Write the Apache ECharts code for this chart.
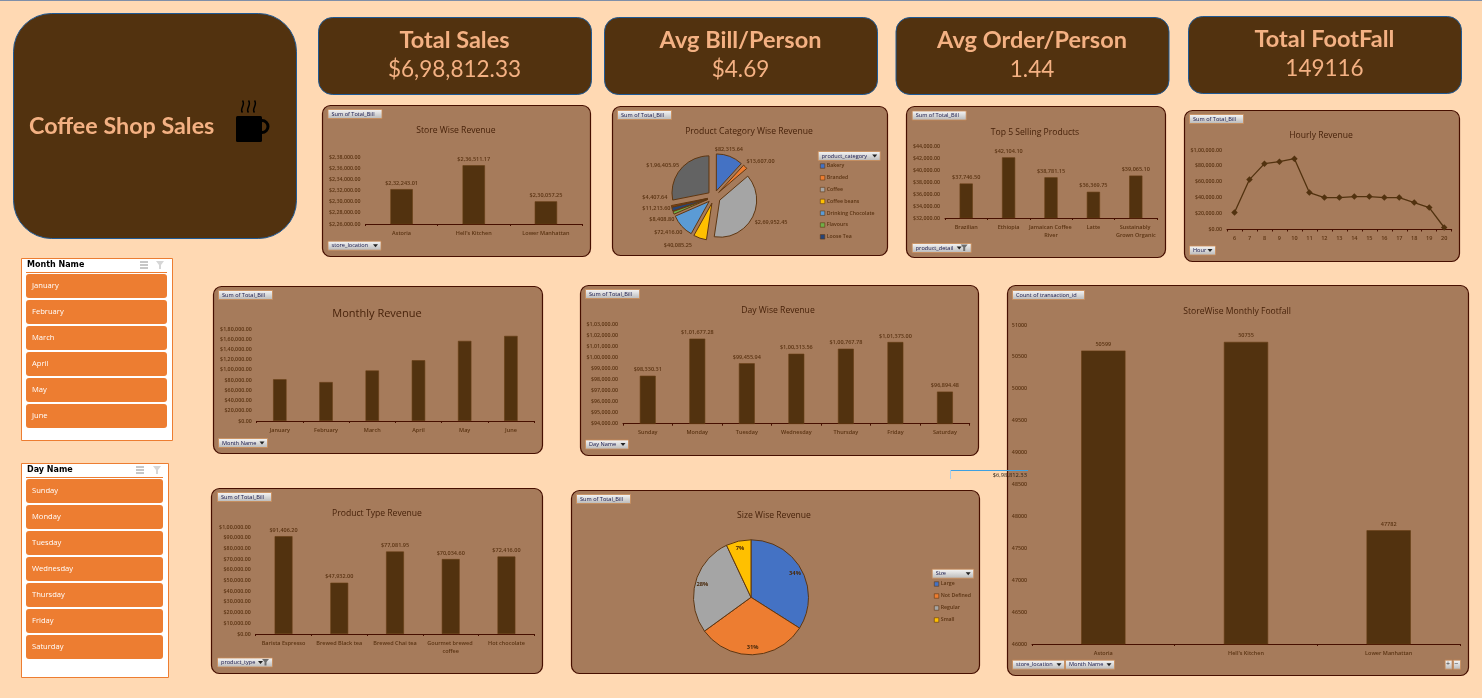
<!DOCTYPE html>
<html>
<head>
<meta charset="utf-8">
<style>html,body{margin:0;padding:0;background:#FFD9B3;overflow:hidden}#c{width:1482px;height:698px}</style>
<script src="https://cdn.jsdelivr.net/npm/echarts@6/dist/echarts.min.js"></script>
</head>
<body>
<div id="c"></div>
<script>
// ---- data ----
const storeNames = ['Astoria', "Hell's Kitchen", 'Lower Manhattan'];
const storeRevenue = [232243.01, 236511.17, 230057.25];
const categoryNames = ['Bakery','Branded','Coffee','Coffee beans','Drinking Chocolate','Flavours','Loose Tea','Packaged Chocolate','Tea'];
const categoryRevenue = [82315.64,13607.00,269952.45,40085.25,72416.00,8408.80,11213.60,4407.64,196405.95];
const categoryLegendCount = 7;
const categoryColors = ['#4472C4','#ED7D31','#A5A5A5','#FFC000','#5B9BD5','#70AD47','#264478','#9E480E','#636363'];
const topProducts = ['Brazilian','Ethiopia','Jamaican Coffee River','Latte','Sustainably Grown Organic'];
const topProductRevenue = [37746.50,42104.10,38781.15,36369.75,39065.10];
const hours = ['6','7','8','9','10','11','12','13','14','15','16','17','18','19','20'];
const hourlyRevenue = [21300,62800,82800,85300,89100,46400,40200,40200,41400,41400,40200,40200,33900,27600,2500];
const months = ['January','February','March','April','May','June'];
const monthlyRevenue = [81677.74,76145.19,98834.68,118941.08,156727.76,166485.88];
const days = ['Sunday','Monday','Tuesday','Wednesday','Thursday','Friday','Saturday'];
const dayRevenue = [98330.31,101677.28,99455.94,100313.56,100767.78,101373.00,96894.48];
const productTypes = ['Barista Espresso','Brewed Black tea','Brewed Chai tea','Gourmet brewed coffee','Hot chocolate'];
const productTypeRevenue = [91406.20,47932.00,77081.95,70034.60,72416.00];
const sizes = ['Large','Not Defined','Regular','Small'];
const sizeShare = [34,31,28,7];
const sizeColors = ['#4472C4','#ED7D31','#A5A5A5','#FFC000'];
const footfall = [50599,50735,47782];
const kpis = [['Total Sales','$6,98,812.33'],['Avg Bill/Person','$4.69'],['Avg Order/Person','1.44'],['Total FootFall','149116']];
const dashboardTitle = 'Coffee Shop Sales';
const strayTotal = '$6,98,812.33';

// ---- style ----
const PAGE='#FFD9B3', CARD='#52320F', CARDTXT='#F4B183', PANEL='#A67B5B', EDGE='#470F00', INK='#5A3312', TITLE='#47220A', ORANGE='#ED7D31';
const FONT='"Open Sans"';

function inr(v){
  const s=Number(v).toFixed(2).split('.');
  const last=s[0].slice(-3), rest=s[0].slice(0,-3).replace(/\B(?=(\d{2})+(?!\d))/g,',');
  return '$'+(rest?rest+',':'')+last+'.'+s[1];
}

const graphics=[], grids=[], xAxes=[], yAxes=[], series=[], titles=[];

function rect(x,y,w,h,fill,stroke,lw,r,z){
  const o=stroke?0.5:0;
  graphics.push({type:'rect',silent:true,z:z,shape:{x:x+o,y:y+o,width:w,height:h,r:r||0},style:{fill:fill,stroke:stroke||null,lineWidth:lw||0}});
}
function text(t,x,y,font,fill,align,z,extra){
  graphics.push(Object.assign({type:'text',silent:true,z:z||5,style:{text:t,x:x,y:y,font:font,fill:fill,align:align||'left',verticalAlign:'middle'}},extra||{}));
}
function poly(points,fill,z){
  graphics.push({type:'polygon',silent:true,z:z||6,shape:{points:points},style:{fill:fill}});
}
function line(x1,y1,x2,y2,stroke,lw,z){
  graphics.push({type:'line',silent:true,z:z||6,shape:{x1:x1,y1:y1,x2:x2,y2:y2},style:{stroke:stroke,lineWidth:lw||1}});
}
const BTNFILL={type:'linear',x:0,y:0,x2:0,y2:1,colorStops:[{offset:0,color:'#F8F8F8'},{offset:1,color:'#B8B8B8'}]};
function fieldBtn(x,y,w,t,kind){
  rect(x,y,w,9,BTNFILL,'#C98A55',0.8,0,5);
  text(t,x+4,y+5,'5.6px '+FONT,'#15154A','left',6);
  if(kind==='arrow'||kind==='filter'){
    const ax=kind==='filter'?x+w-14:x+w-7.5;
    poly([[ax,y+3.5],[ax+5,y+3.5],[ax+2.5,y+6.5]],'#222',6);
  }
  if(kind==='filter'){
    const fx=x+w-10;
    poly([[fx,y+1.5],[fx+7,y+1.5],[fx+4.5,y+4.5],[fx+4.5,y+8],[fx+2.5,y+8],[fx+2.5,y+4.5]],'#6E6E6E',6);
  }
}
function panel(x0,y0,x1,y1){ rect(x0,y0,x1-x0,y1-y0,PANEL,EDGE,1.2,8,-10); }

function axes(g,cats,min,max,interval,fmt,labW){
  const i=grids.length;
  grids.push({left:g[0],top:g[1],width:g[2],height:g[3],containLabel:false});
  xAxes.push({type:'category',gridIndex:i,data:cats,
    axisLine:{lineStyle:{color:EDGE,width:1}},
    axisTick:{show:true,length:2,alignWithLabel:false,lineStyle:{color:EDGE,width:1}},
    axisLabel:{interval:0,margin:5,fontFamily:FONT,fontSize:5.5,fontWeight:600,color:INK,width:labW,overflow:labW?'break':'none',lineHeight:8}});
  yAxes.push({type:'value',gridIndex:i,min:min,max:max,interval:interval,
    axisLine:{show:false},axisTick:{show:false},splitLine:{show:false},
    axisLabel:{margin:5,fontFamily:FONT,fontSize:5.3,fontWeight:600,color:INK,formatter:fmt}});
  return i;
}
function barChart(g,cats,vals,min,max,interval,o){
  o=o||{};
  const i=axes(g,cats,min,max,interval,o.axisFmt||inr,o.labW);
  series.push({type:'bar',xAxisIndex:i,yAxisIndex:i,data:vals,barWidth:o.bw||'31%',silent:true,
    itemStyle:{color:CARD,borderColor:'#653C12',borderWidth:0.6},
    label:{show:o.labels!==false,position:'top',distance:3,fontFamily:FONT,fontSize:5.5,fontWeight:600,color:INK,
      formatter:p=>(o.labelFmt||inr)(p.value)}});
}
function chartTitle(t,x,y,size){
  titles.push({text:t,left:x,top:y+1,textAlign:'center',textVerticalAlign:'middle',padding:0,
    textStyle:{fontFamily:FONT,fontSize:size,fontWeight:'normal',color:TITLE}});
}

// ---- page furniture ----
rect(0,0,1482,1,'#7F8FA9',null,0,0,-20);
// title card
rect(13,13,283,225,CARD,'#1F5A96',1,38,-10);
text(dashboardTitle,29,126,'bold 23.3px Lato',CARDTXT,'left',5);
// mug icon
rect(236,116,26,26,'#000',null,0,1.5,5);
graphics.push({type:'ring',silent:true,z:5,shape:{cx:262,cy:126.5,r:7.5,r0:4.5},style:{fill:'#000'}});
[242.5,248.5,254.5].forEach(function(sx){
  graphics.push({type:'bezierCurve',silent:true,z:5,shape:{x1:sx,y1:112.5,cpx1:sx-3.5,cpy1:109,cpx2:sx+3.5,cpy2:105,x2:sx,y2:100.5},style:{stroke:'#000',lineWidth:1.5,fill:null}});
});
// KPI cards
[[318,17],[604,17],[895.5,17],[1188,16]].forEach(function(p,i){
  rect(p[0],p[1],273,77,CARD,'#1F5A96',1,14,-10);
  text(kpis[i][0],p[0]+136.5,p[1]+23,'bold 23.5px Lato',CARDTXT,'center',5);
  text(kpis[i][1],p[0]+136.5,p[1]+53,'22.5px Lato',CARDTXT,'center',5);
});

// slicers
function slicer(x0,y0,x1,y1,bw,name,items,ic1,ic2){
  rect(x0,y0,x1-x0,y1-y0,'#FFFFFF',ORANGE,1,0,-10);
  text(name,27,y0+7,'bold 8px "DejaVu Sans"','#000','left',5);
  line(26,y0+14.5,26+bw,y0+14.5,ORANGE,1,5);
  items.forEach(function(t,i){
    rect(26,y0+16+26*i,bw,24,ORANGE,null,0,3,5);
    text(t,32,y0+28+26*i,'7.6px '+FONT,'#FFFFFF','left',6);
  });
  // multi-select icon
  [2,5,8].forEach(function(d){ line(ic1-1,y0+2+d,ic1+7,y0+2+d,'#8E8E8E',1,6); });
  // clear-filter icon
  poly([[ic2,y0+3],[ic2+8,y0+3],[ic2+5,y0+7],[ic2+5,y0+11],[ic2+3,y0+11],[ic2+3,y0+7]],'#D6D6D6',6);
}
slicer(21,258,172,440,141,'Month Name',months,141,156);
slicer(21,463,168,677,137,'Day Name',days,137,153);

// ---- store revenue ----
panel(322,105,590,256);
chartTitle('Store Wise Revenue',456,130,8.6);
barChart([365.5,157,216.5,67],storeNames,storeRevenue,226000,238000,2000,{});
fieldBtn(327.5,109,54,'Sum of Total_Bill');
fieldBtn(327.5,240.7,53,'store_location','arrow');

// ---- product category pie ----
panel(612,106,887,255);
chartTitle('Product Category Wise Revenue',749,131,8.6);
const categoryLabelNudge=[[-23,-4],[-8,-3],[-7,3],[0,2],[3,-1],[2,-4],[2,-7],[1,-9],[8,-2]];
series.push({type:'pie',silent:true,center:[714,197],radius:37,startAngle:90,clockwise:true,
  selectedMode:'multiple',selectedOffset:6.5,avoidLabelOverlap:true,minShowLabelAngle:0,
  data:categoryNames.map(function(n,i){return {name:n,value:categoryRevenue[i],selected:true};}),
  color:categoryColors,
  itemStyle:{borderColor:'#5F3712',borderWidth:1},
  label:{show:true,position:'outside',fontFamily:FONT,fontSize:5.5,fontWeight:600,color:INK,formatter:function(p){return inr(p.value);}},
  labelLine:{show:false,length:3,length2:2},
  labelLayout:function(p){const n=categoryLabelNudge[p.dataIndex];return {dx:n[0],dy:n[1]};}});
fieldBtn(617,110,54,'Sum of Total_Bill');
fieldBtn(817.7,151,62,'product_category','arrow');

// ---- top 5 ----
panel(906,106,1165,257);
chartTitle('Top 5 Selling Products',1035,132,8.6);
barChart([945,146,212,72],topProducts,topProductRevenue,32000,44000,2000,{labW:47});
fieldBtn(911.7,110.5,54,'Sum of Total_Bill');
fieldBtn(911.7,243,59,'product_detail','filter');

// ---- hourly ----
panel(1184,110,1459,261);
chartTitle('Hourly Revenue',1321,135,8.6);
(function(){
  const i=axes([1227,150,224.7,79.5],hours,0,100000,20000,inr);
  series.push({type:'line',xAxisIndex:i,yAxisIndex:i,data:hourlyRevenue,silent:true,symbol:'diamond',symbolSize:6.5,
    lineStyle:{color:CARD,width:1.3},itemStyle:{color:CARD}});
})();
fieldBtn(1189,114,54,'Sum of Total_Bill');
fieldBtn(1189,245.5,26,'Hour','arrow');

// ---- monthly ----
panel(213,286,542,453);
chartTitle('Monthly Revenue',377,313,11);
barChart([256.7,329,277.3,92],months,monthlyRevenue,0,180000,20000,{labels:false,bw:'29%'});
fieldBtn(218,290,54,'Sum of Total_Bill');
fieldBtn(218,438,49,'Month Name','arrow');

// ---- day ----
panel(580,285,978,455);
chartTitle('Day Wise Revenue',778,310,8.6);
barChart([623,324,346.7,99.7],days,dayRevenue,94000,103000,1000,{bw:'32%'});
fieldBtn(585,289,54,'Sum of Total_Bill');
fieldBtn(585,439.5,43,'Day Name','arrow');

// ---- product type ----
panel(211,488,542,673);
chartTitle('Product Type Revenue',377,513,8.6);
barChart([255.7,527,278.6,107],productTypes,productTypeRevenue,0,100000,10000,{labW:50,bw:'32%'});
fieldBtn(217,492,54,'Sum of Total_Bill');
fieldBtn(217,657.5,55,'product_type','filter');

// ---- size ----
panel(571,490,979,673);
chartTitle('Size Wise Revenue',774,515,8.6);
const SIZE_CX=751, SIZE_CY=597.3;
series.push({type:'pie',silent:true,center:[SIZE_CX,SIZE_CY],radius:57.5,startAngle:90,clockwise:true,
  data:sizes.map(function(n,i){return {name:n,value:sizeShare[i]};}),color:sizeColors,
  itemStyle:{borderColor:'#5F3712',borderWidth:1},
  label:{show:true,position:'inside',fontFamily:FONT,fontSize:5.8,fontWeight:'bold',color:'#4A2A0C',formatter:function(p){return p.value+'%';}},
  labelLayout:function(p){
    const lx=p.labelRect.x+p.labelRect.width/2, ly=p.labelRect.y+p.labelRect.height/2;
    return {dx:(lx-SIZE_CX)*0.58,dy:(ly-SIZE_CY)*0.58};
  }});
fieldBtn(576,494,54,'Sum of Total_Bill');
fieldBtn(931.7,568.7,41.5,'Size','arrow');

// ---- footfall ----
panel(1007,285,1468,675);
chartTitle('StoreWise Monthly Footfall',1237,311,8.6);
barChart([1032,325,428,319],storeNames,footfall,46000,51000,500,{axisFmt:function(v){return String(v);},labelFmt:function(v){return String(v);}});
fieldBtn(1012,290,72,'Count of transaction_id');
fieldBtn(1012,659.7,52,'store_location','arrow');
fieldBtn(1065,659.7,49,'Month Name','arrow');
fieldBtn(1444.6,659.7,7,'');
fieldBtn(1453,659.7,7,'');
text('+',1448,664,'7px '+FONT,'#333','center',7);
text('\u2212',1456.5,664,'7px '+FONT,'#333','center',7);

// stray connector in the sheet
line(950,470.5,1028,470.5,'#3FA0E0',1,20);
line(950.5,470,950.5,479,'#A8CCE8',1,20);
text(strayTotal,1027,475,'5.8px '+FONT,'#2E2418','right',20);

const legendBase={orient:'vertical',icon:'rect',itemWidth:4.5,itemHeight:4.5,padding:0,selectedMode:false,
  itemStyle:{borderWidth:0.6},
  textStyle:{fontFamily:FONT,fontSize:5.2,fontWeight:600,color:INK,padding:[0,0,0,-3],lineHeight:7}};
const chart=echarts.init(document.getElementById('c'),null,{renderer:'canvas'});
chart.setOption({
  animation:false,
  backgroundColor:PAGE,
  title:titles,
  tooltip:{show:false},
  grid:grids,xAxis:xAxes,yAxis:yAxes,series:series,
  legend:[
    Object.assign({},legendBase,{left:820,top:162.5,itemGap:4.8,data:categoryNames.slice(0,categoryLegendCount)}),
    Object.assign({},legendBase,{left:934,top:580.5,itemGap:5,data:sizes})
  ],
  graphic:{elements:graphics}
});
</script>
</body>
</html>
